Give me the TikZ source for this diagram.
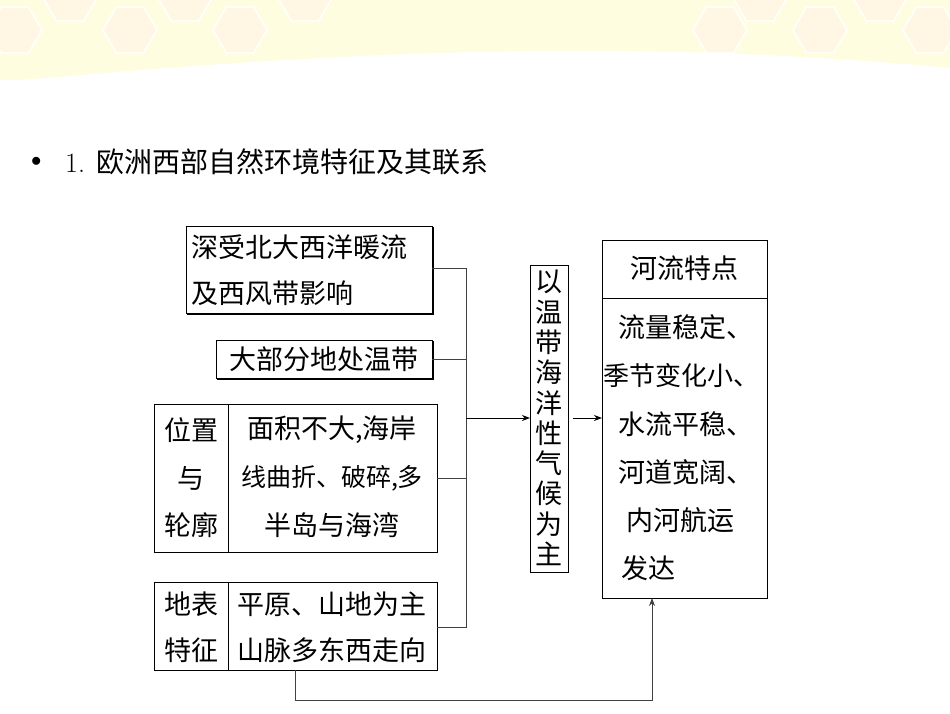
\documentclass[tikz,border=0pt]{standalone}
\usepackage{fontspec}
\newfontfamily\cjk{Noto Sans CJK SC}
\usetikzlibrary{arrows.meta}
\begin{document}
\begin{tikzpicture}[x=1pt,y=-1pt,
  box/.style={draw=black,line width=1pt},
  txt/.style={font=\cjk\fontsize{27}{27}\selectfont,inner sep=0pt},
  ln/.style={draw=black!75,line width=0.9pt},
  arr/.style={draw=black,line width=1pt,-{Stealth[length=8pt,width=6pt]}}]
\useasboundingbox (0,0) rectangle (950,713);
% background banner
\fill[yellow!12!white] (0,0) rectangle (950,80);
\foreach \cx/\cy in {15/30,70/-2,130/30,185/-2,240/30,305/-2,720/30,760/-2,820/30,880/-2,930/30} {
  \fill[yellow!50!orange!10!white,draw=white,line width=1.5pt] (\cx,\cy) ++(27,0) -- ++(-13.5,23) -- ++(-27,0) -- ++(-13.5,-23) -- ++(13.5,-23) -- ++(27,0) -- cycle;}
\fill[white] (0,82) .. controls (300,55) and (600,35) .. (950,68) -- (950,120) -- (0,120) -- cycle;
% title
\node[anchor=west,inner sep=0pt,font=\fontsize{22}{22}\selectfont] (bul) at (31,162) {$\bullet$};
\node[anchor=west,txt,font=\cjk\fontsize{28}{28}\selectfont] (title) at (65,162) {\rmfamily 1. \cjk 欧洲西部自然环境特征及其联系};
% box1
\draw[box] (186,226) rectangle (432,313);
\draw[line width=2pt] (433,227) -- (433,314) -- (187,314);
\node[txt,anchor=west] (b1a) at (191,247) {深受北大西洋暖流};
\node[txt,anchor=west] (b1b) at (191,293) {及西风带影响};
\coordinate (b1) at (432,268);
% box2
\draw[box] (216,340) rectangle (432,378);
\draw[line width=2pt] (433,341) -- (433,379) -- (217,379);
\node[txt] (b2) at (324,359) {大部分地处温带};
\coordinate (b2r) at (432,359);
% box3
\draw[box] (154,404) rectangle (437,552);
\draw[box] (228,404) -- (228,552);
\node[txt] (b3l1) at (191,430) {位置};
\node[txt] (b3l2) at (191,478) {与};
\node[txt] (b3l3) at (191,525) {轮廓};
\node[txt] (b3r1) at (332,430) {面积不大,海岸};
\node[txt,font=\cjk\fontsize{25}{25}\selectfont] (b3r2) at (332,478) {线曲折、破碎,多};
\node[txt] (b3r3) at (332,525) {半岛与海湾};
\coordinate (b3r) at (437,478);
% box4
\draw[box] (154,582) rectangle (437,670);
\draw[box] (228,582) -- (228,670);
\node[txt] (b4l1) at (191,604) {地表};
\node[txt] (b4l2) at (191,650) {特征};
\node[txt] (b4r1) at (332,604) {平原、山地为主};
\node[txt] (b4r2) at (332,650) {山脉多东西走向};
\coordinate (b4r) at (437,627);
\coordinate (b4b) at (295,670);
% bus
\coordinate (bt) at (466,268);
\coordinate (bb) at (466,627);
\coordinate (bm) at (466,418);
\draw[ln] (b1) -- (bt) -- (bb) -- (b4r);
\draw[ln] (b2r) -- (466,359);
\draw[ln] (b3r) -- (466,478);
% middle box
\draw[box] (530,265) rectangle (568,572);
\node[txt,align=center,font=\cjk\fontsize{27}{30.3}\selectfont] (mid) at (549,418) {以\\温\\带\\海\\洋\\性\\气\\候\\为\\主};
\coordinate (ml) at (530,418);
\draw[arr] (bm) -- (ml);
% right box
\draw[box] (602,240) rectangle (767,598);
\draw[box] (602,298) -- (767,298);
\node[txt] (rh) at (684,268) {河流特点};
\node[txt,anchor=west] (r1) at (618,327) {流量稳定、};
\node[txt,anchor=west,font=\cjk\fontsize{26}{26}\selectfont] (r2) at (603,376) {季节变化小、};
\node[txt,anchor=west] (r3) at (618,424) {水流平稳、};
\node[txt,anchor=west] (r4) at (618,472) {河道宽阔、};
\node[txt,anchor=west] (r5) at (626,520) {内河航运};
\node[txt,anchor=west] (r6) at (621,568) {发达};
\coordinate (rl) at (602,418);
\coordinate (rb) at (652,598);
\draw[arr] (573,418) -- (rl);
\draw[ln,-{Stealth[length=8pt,width=6pt]}] (b4b) -- (295,700) -- (652,700) -- (rb);
\end{tikzpicture}
\end{document}
